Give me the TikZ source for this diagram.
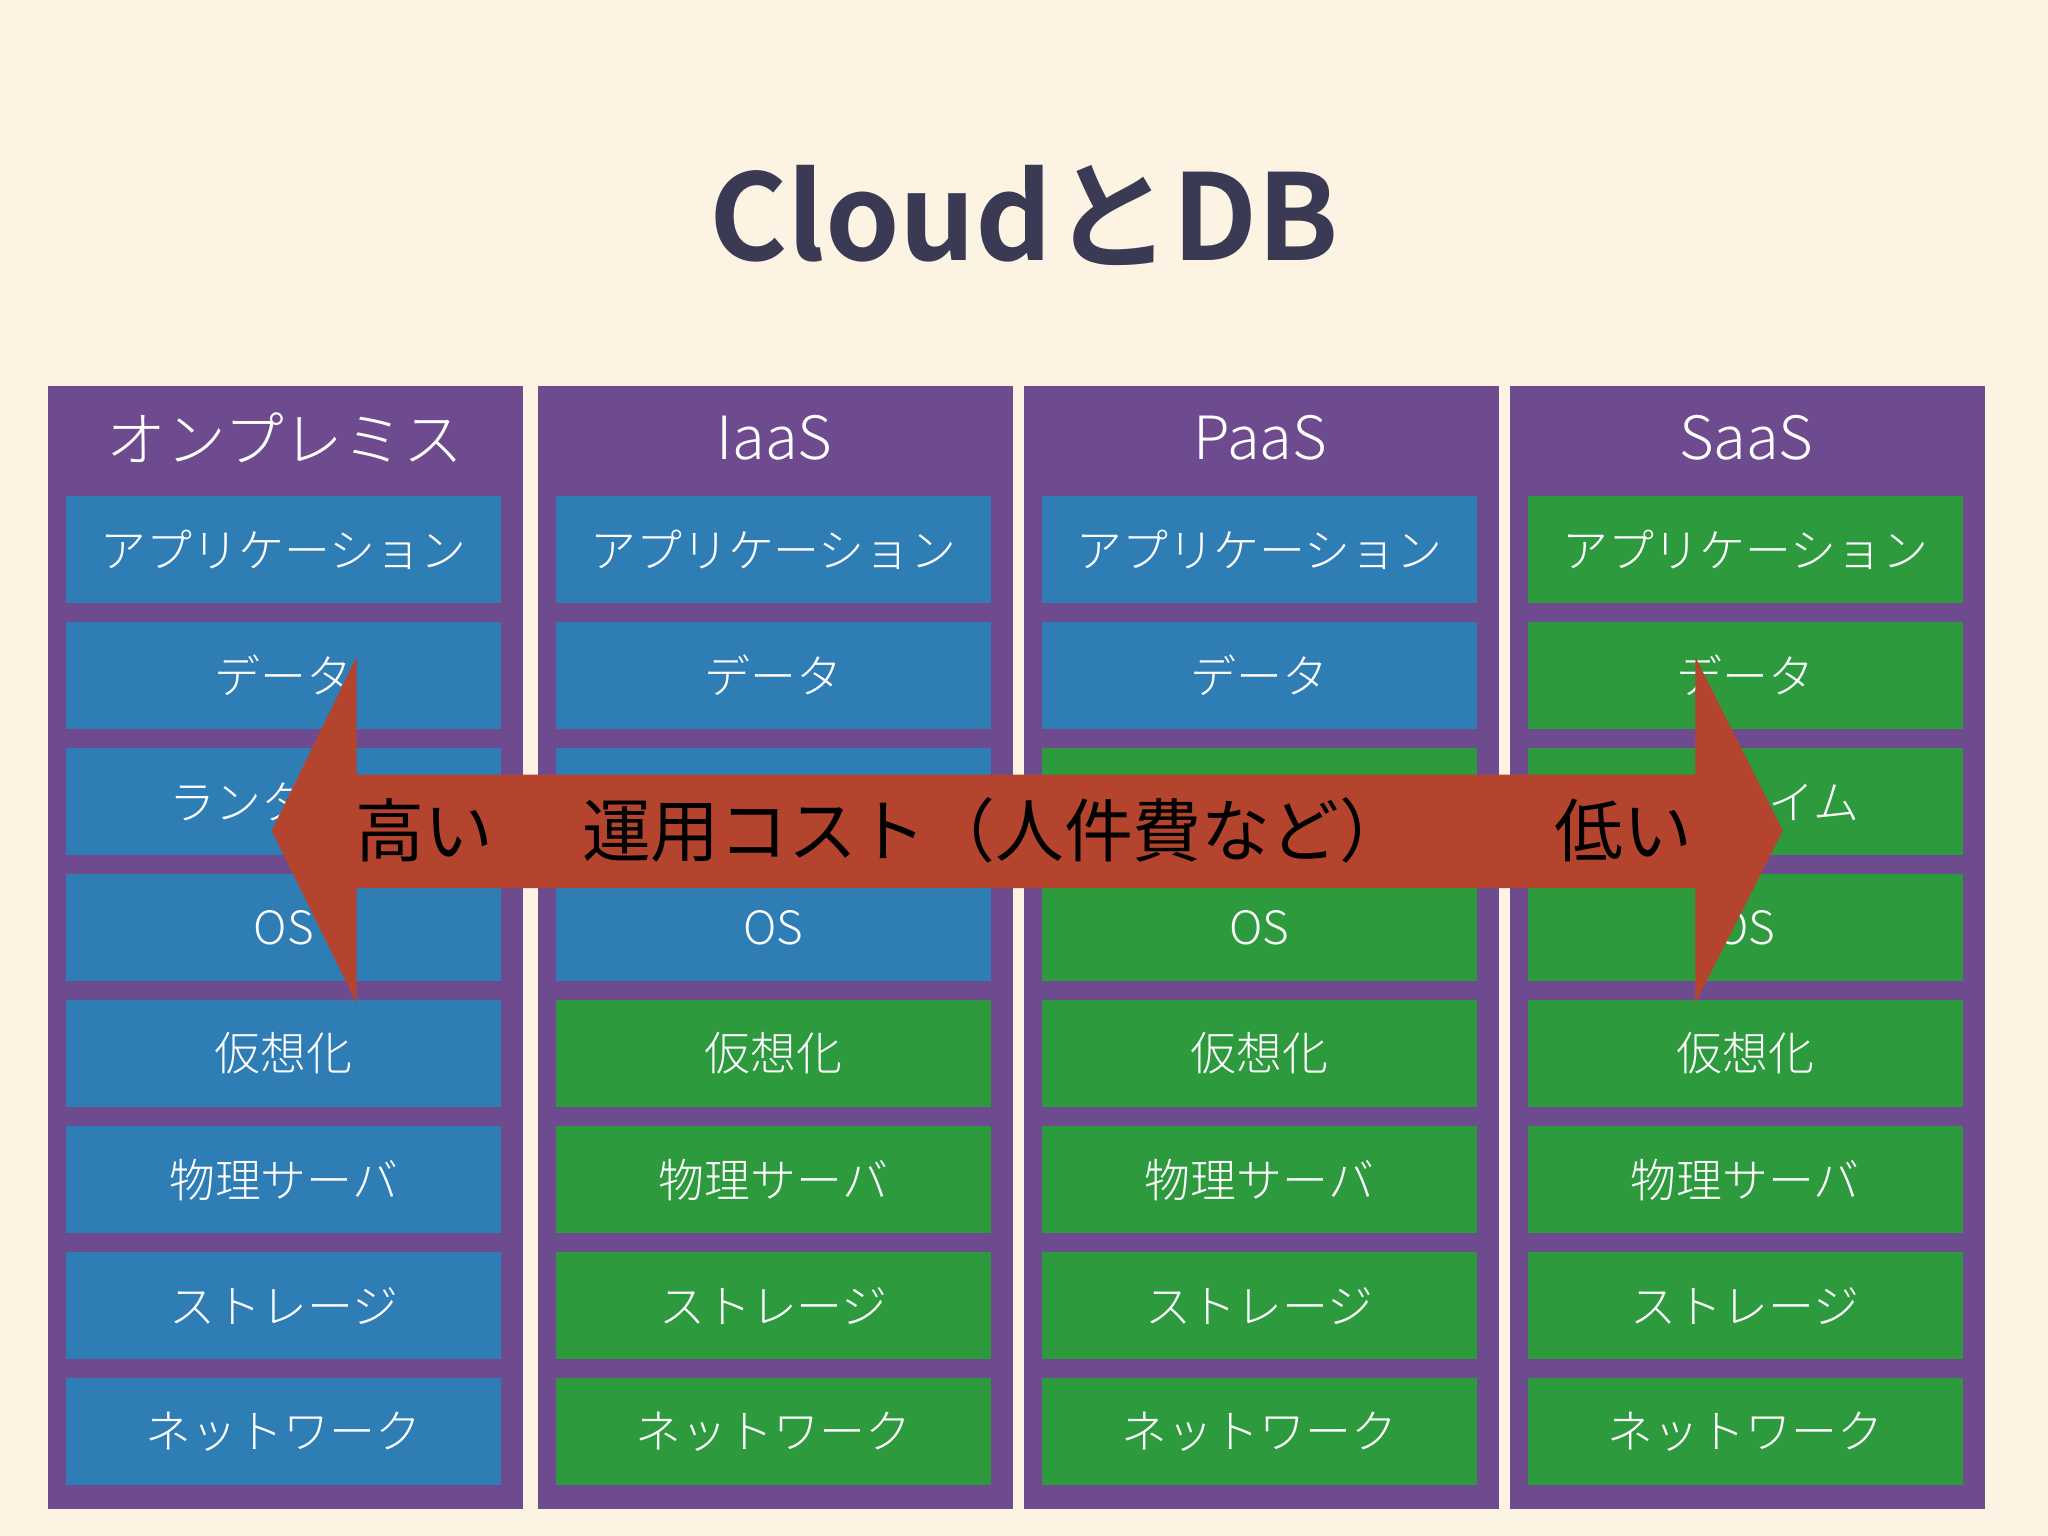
\documentclass[tikz,border=0pt]{standalone}
\usepackage{fontspec}
\setmainfont{Noto Sans CJK JP}
\newfontfamily\jpb{Noto Sans CJK JP Bold}
\newfontfamily\jpl{Noto Sans CJK JP Light}
\definecolor{bg}{HTML}{FDF3E3}
\definecolor{purp}{HTML}{6E4A8E}
\definecolor{blu}{HTML}{2E7DB5}
\definecolor{grn}{HTML}{2E9A3E}
\definecolor{arr}{HTML}{B5442E}
\definecolor{ttl}{HTML}{3A3A55}
\tikzset{
 colbox/.style={fill=purp, draw=none, minimum width=3.64cm, minimum height=8.6cm, anchor=north west},
 layer/.style={draw=none, minimum width=3.33cm, minimum height=0.82cm, text=white, font=\jpl\fontsize{10}{12}\selectfont, anchor=north west},
 hdr/.style={text=white, font=\jpl\fontsize{13}{15}\selectfont}
}
\begin{document}
\begin{tikzpicture}
\fill[bg] (0,0) rectangle (15.68,-11.76);
\useasboundingbox (0,0) rectangle (15.68,-11.76);
\node[text=ttl, font=\jpb\fontsize{26}{30}\selectfont] (title) at (7.84,-1.65) {CloudとDB};
\def\labels{{"アプリケーション","データ","ランタイム","OS","仮想化","物理サーバ","ストレージ","ネットワーク"}}
\foreach \c/\x/\hd/\nb in {1/0.36/オンプレミス/8, 2/4.11/IaaS/4, 3/7.83/PaaS/2, 4/11.55/SaaS/0}{
  \node[colbox] (col\c) at (\x,-2.95) {};
  \node[hdr] (hdr\c) at (\x+1.82,-3.35) {\hd};
  \foreach \r in {1,...,8}{
    \pgfmathsetmacro{\yy}{-3.79-(\r-1)*0.965}
    \pgfmathsetmacro{\lab}{\labels[\r-1]}
    \ifnum\r>\nb \def\fc{grn}\else\def\fc{blu}\fi
    \node[layer, fill=\fc] (b\c\r) at (\x+0.14,\yy) {\lab};
  }
}
\fill[arr] (2.08,-6.36) coordinate (tipL) -- (2.73,-5.03) -- (2.73,-5.93) -- (12.98,-5.93) -- (12.98,-5.03) -- (13.65,-6.36) coordinate (tipR) -- (12.98,-7.68) -- (12.98,-6.80) -- (2.73,-6.80) -- (2.73,-7.68) -- cycle;
\node[text=black, font=\fontsize{15}{18}\selectfont] (hi) at (3.25,-6.36) {高い};
\node[text=black, font=\fontsize{15}{18}\selectfont] (mid) at (7.62,-6.36) {運用コスト（人件費など）};
\node[text=black, font=\fontsize{15}{18}\selectfont] (lo) at (12.43,-6.36) {低い};
\end{tikzpicture}
\end{document}
